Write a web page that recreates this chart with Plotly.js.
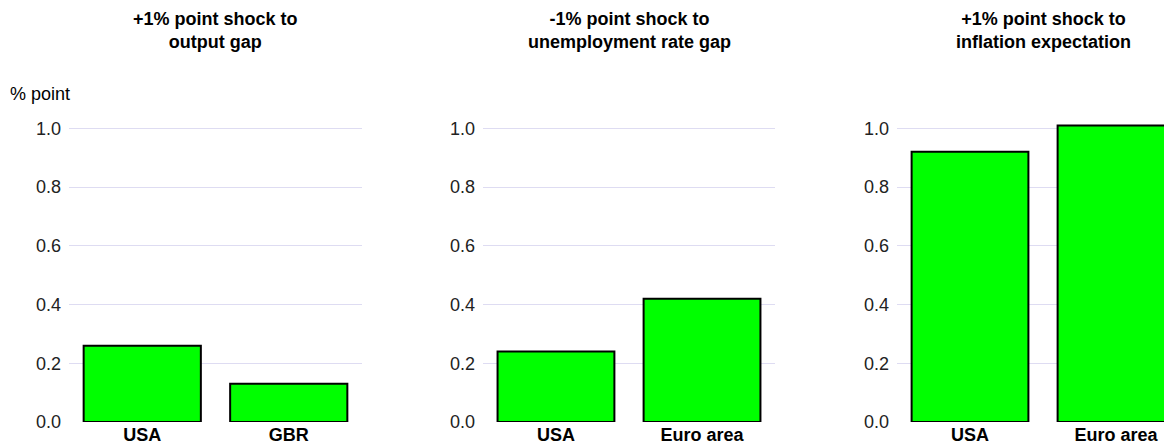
<!DOCTYPE html>
<html>
<head>
<meta charset="utf-8">
<script src="https://cdn.plot.ly/plotly-3.0.1.min.js"></script>
<style>
  html, body { margin: 0; padding: 0; overflow: hidden; background: #fff; }
  #chart { width: 1190px; height: 445px; }
</style>
</head>
<body>
<div id="chart"></div>
<script>
// Data
const panelTitles = [
  ["+1% point shock to", "output gap"],
  ["-1% point shock to", "unemployment rate gap"],
  ["+1% point shock to", "inflation expectation"]
];
const cats1 = ["USA", "GBR"];
const vals1 = [0.26, 0.13];
const cats2 = ["USA", "Euro area"];
const vals2 = [0.24, 0.42];
const cats3 = ["USA", "Euro area"];
const vals3 = [0.92, 1.01];
const yTicks = [0, 0.2, 0.4, 0.6, 0.8, 1.0];
const yTickText = ["0.0", "0.2", "0.4", "0.6", "0.8", "1.0"];
const yUnit = "% point";

const font = "Arial, 'Liberation Sans', sans-serif";
const barStyle = { color: "#00ff00", line: { color: "#000000", width: 2 } };

function barTrace(x, y, ax) {
  return {
    type: "bar", x: x, y: y,
    xaxis: "x" + ax, yaxis: "y" + ax,
    marker: barStyle, showlegend: false, hoverinfo: "x+y"
  };
}

const data = [
  barTrace(cats1, vals1, ""),
  barTrace(cats2, vals2, "2"),
  barTrace(cats3, vals3, "3")
];

const domains = [[0, 0.2616], [0.3696, 0.6304], [0.7393, 1]];
const panelW = 0.2616;

function xAxis(domain, anchor, cats) {
  return {
    domain: domain, anchor: anchor,
    showgrid: false, zeroline: false, showline: false, ticks: "",
    tickvals: cats, ticktext: cats.map(c => "<b>" + c + "</b>"),
    tickfont: { family: font, size: 18, color: "#000" },
    fixedrange: true
  };
}
function yAxis(anchor) {
  return {
    anchor: anchor, range: [0, 1.1],
    tickvals: yTicks, ticktext: yTickText,
    showgrid: true, gridcolor: "#dedcf2", gridwidth: 1,
    zeroline: false, showline: false, ticks: "",
    tickfont: { family: font, size: 18, color: "#222" },
    ticklabelstandoff: 7,
    fixedrange: true
  };
}

const annotations = panelTitles.map((lines, i) => ({
  text: "<b>" + lines.join("<br>") + "</b>",
  xref: "paper", yref: "paper",
  x: domains[i][0] + panelW / 2, y: 1.2136,
  xanchor: "center", yanchor: "middle",
  showarrow: false,
  font: { family: font, size: 18, color: "#000" }
}));
annotations.push({
  text: yUnit, xref: "paper", yref: "paper",
  x: -0.0545, y: 1.0155, xanchor: "left", yanchor: "middle",
  showarrow: false, font: { family: font, size: 18, color: "#000" }
});

const layout = {
  width: 1190, height: 445,
  margin: { l: 69, r: 1, t: 99, b: 23 },
  paper_bgcolor: "#fff", plot_bgcolor: "#fff",
  bargap: 0.2,
  font: { family: font },
  xaxis: xAxis(domains[0], "y", cats1),
  yaxis: yAxis("x"),
  xaxis2: xAxis(domains[1], "y2", cats2),
  yaxis2: yAxis("x2"),
  xaxis3: xAxis(domains[2], "y3", cats3),
  yaxis3: yAxis("x3"),
  annotations: annotations
};

Plotly.newPlot("chart", data, layout, { displayModeBar: false, staticPlot: true });
</script>
</body>
</html>
